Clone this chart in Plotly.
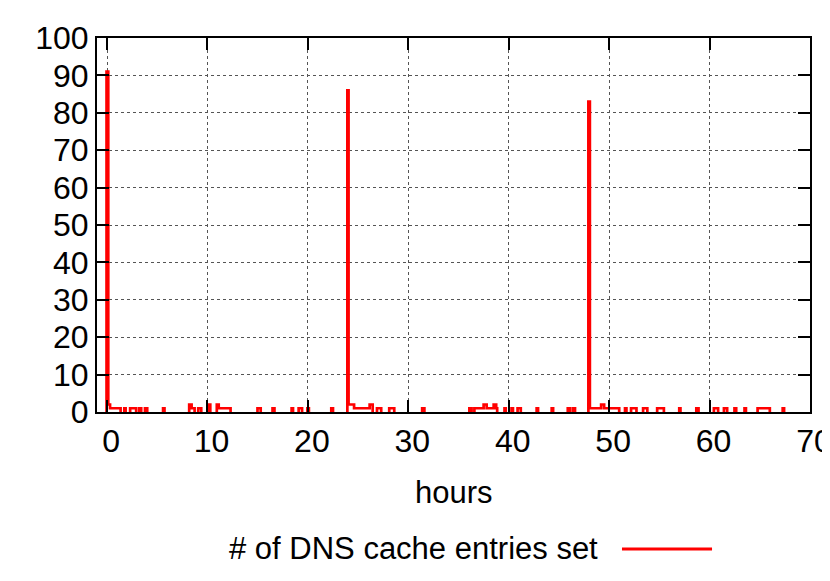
import plotly.graph_objects as go

# Step segments of the histogram (hours) and counts of DNS cache entries set
seg_start = [-0.05, 0.12, 0.30, 1.72, 2.30, 3.20, 3.78, 5.58, 8.18, 8.42, 9.08,
             10.08, 10.93, 11.12, 14.98, 16.48, 18.38, 19.08, 19.95, 22.33,
             23.93, 24.05, 24.60, 26.15, 26.88, 28.10, 31.38, 36.08, 36.58,
             37.50, 37.80, 38.50, 38.75, 39.58, 40.28, 40.88, 42.78, 44.28,
             45.88, 46.38,
             47.93, 48.08, 49.20, 49.50, 51.58, 52.18, 53.38, 54.78, 56.98,
             58.68, 60.43, 61.43, 62.48, 63.48, 64.78, 67.28]
seg_end = [0.12, 0.30, 1.35, 1.85, 2.90, 3.40, 4.00, 5.72, 8.42, 8.72, 9.38,
           10.28, 11.12, 12.30, 15.30, 16.67, 18.52, 19.42, 20.10, 22.50,
           24.05, 24.60, 26.15, 26.45, 27.30, 28.60, 31.60, 36.30, 37.50,
           37.80, 38.50, 38.75, 38.85, 39.70, 40.42, 41.20, 42.92, 44.42,
           46.10, 46.60,
           48.08, 49.20, 49.50, 51.00, 51.72, 52.72, 53.80, 55.45, 57.10,
           58.90, 60.85, 61.75, 62.65, 63.62, 66.00, 67.42]
counts = [91, 2, 1, 1, 1, 1, 1, 1, 2, 1, 1,
          2, 2, 1, 1, 1, 1, 1, 1, 1,
          86, 2, 1, 2, 1, 1, 1, 1, 1,
          2, 1, 2, 1, 1, 1, 1, 1, 1,
          1, 1,
          83, 1, 2, 1, 1, 1, 1, 1, 1,
          1, 1, 1, 1, 1, 1, 1]

x_ticks = [0, 10, 20, 30, 40, 50, 60, 70]
y_ticks = [0, 10, 20, 30, 40, 50, 60, 70, 80, 90, 100]

# build a step outline; adjacent segments join without dropping to zero
xs, ys = [], []
prev_end = None
for s, e, c in zip(seg_start, seg_end, counts):
    if prev_end is not None and abs(s - prev_end) < 1e-9:
        xs = xs[:-2]
        ys = ys[:-2]
        xs += [s, e, e, None]
        ys += [c, c, 0, None]
    else:
        xs += [s, s, e, e, None]
        ys += [0, c, c, 0, None]
    prev_end = e

FONT = "Liberation Sans, Arial, sans-serif"
FS = 32

fig = go.Figure()
fig.add_trace(go.Scatter(x=xs, y=ys, mode="lines",
                         line=dict(color="#ff0000", width=2.7),
                         connectgaps=False, showlegend=False,
                         hoverinfo="skip"))

axis_common = dict(
    showline=True, linecolor="black", linewidth=2, mirror="allticks",
    ticks="inside", ticklen=12, tickwidth=2, tickcolor="black",
    showgrid=True, gridcolor="#555555", gridwidth=1, griddash="dot",
    zeroline=False, layer="above traces", automargin=False,
    tickfont=dict(family=FONT, size=FS, color="black"),
)

fig.update_layout(
    width=830, height=581,
    margin=dict(l=89, r=28, t=30, b=177),
    paper_bgcolor="white", plot_bgcolor="white",
    font=dict(family=FONT, size=FS, color="black"),
    xaxis=dict(range=[-1, 70], tickvals=x_ticks, ticklabelshift=4, **axis_common),
    yaxis=dict(range=[0, 100], tickvals=y_ticks, **axis_common),
    showlegend=False,
)

fig.add_annotation(text="hours", xref="paper", yref="paper", x=0.5, y=-0.214,
                   xanchor="center", yanchor="middle", showarrow=False,
                   font=dict(family=FONT, size=31, color="black"))
fig.add_annotation(text="# of DNS cache entries set", xref="paper", yref="paper",
                   x=0.7055, y=-0.366, xanchor="right", yanchor="middle",
                   showarrow=False, font=dict(family=FONT, size=31, color="black"))
fig.add_shape(type="line", xref="paper", yref="paper",
              x0=0.7363, x1=0.8626, y0=-0.3663, y1=-0.3663,
              line=dict(color="#ff0000", width=3))

fig.write_html("out.html")
